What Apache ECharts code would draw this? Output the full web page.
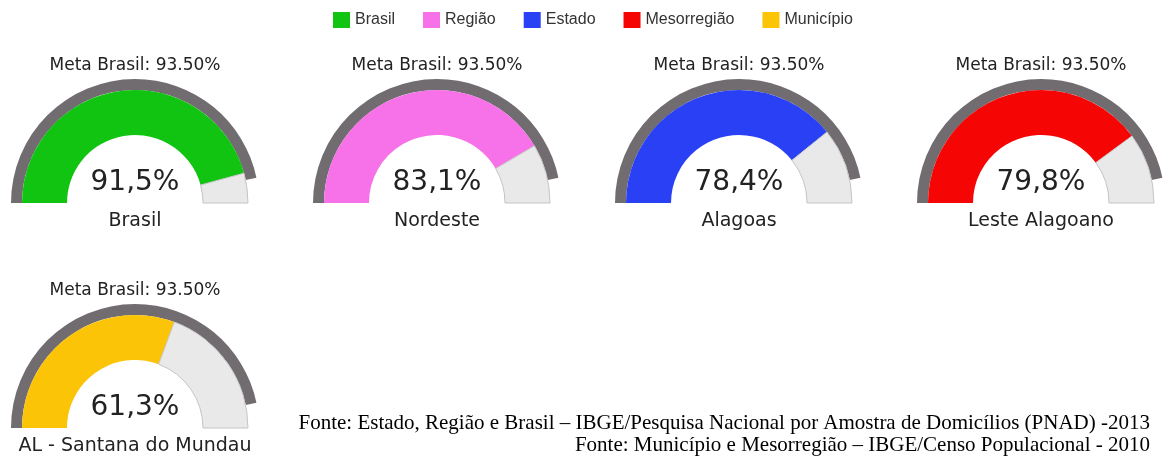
<!DOCTYPE html>
<html lang="pt">
<head>
    <meta charset="UTF-8">
    <title>Meta Brasil - velocímetros</title>
    <style type="text/css">
        *{
            margin: 0;
            padding: 0;
        }
        #main{
            width: 1163px;
            height: 457px;
            background: #ffffff;
        }
    </style>
</head>
<body>
    <div id="main"></div>
    <script src="https://cdn.jsdelivr.net/npm/echarts@6/dist/echarts.min.js"></script>
    <script type="text/javascript">
        // dados
        var groups = ['Brasil', 'Região', 'Estado', 'Mesorregião', 'Município'];
        var names = ['Brasil', 'Nordeste', 'Alagoas', 'Leste Alagoano', 'AL - Santana do Mundau'];
        var values = [91.5, 83.1, 78.4, 79.8, 61.3];
        var meta = 93.5;
        var fontes = [
            'Fonte: Estado, Região e Brasil – IBGE/Pesquisa Nacional por Amostra de Domicílios (PNAD) -2013',
            'Fonte: Município e Mesorregião – IBGE/Censo Populacional - 2010'
        ];

        var colors = ['#11c411', '#f771e8', '#2940f4', '#f60505', '#fcc407'];
        // centro de cada velocímetro
        var centers = [[135, 203], [437, 203], [739, 203], [1041, 203], [135, 428]];

        var myChart = echarts.init(document.getElementById('main'));

        var series = [];
        var graphic = [];
        var gaugeFont = 'DejaVu Sans';

        names.forEach(function (name, i) {
            var c = centers[i];
            // arco cinza da meta
            series.push({
                type: 'pie',
                center: c,
                radius: [113, 124],
                startAngle: 180,
                endAngle: 0,
                silent: true,
                animation: false,
                label: {show: false},
                labelLine: {show: false},
                data: [
                    {value: meta, name: 'Meta', itemStyle: {color: '#716c70'}},
                    {value: 100 - meta, name: 'resto', itemStyle: {color: 'rgba(0,0,0,0)'}}
                ]
            });
            // faixa do valor
            series.push({
                type: 'pie',
                center: c,
                radius: [68, 113],
                startAngle: 180,
                endAngle: 0,
                silent: true,
                animation: false,
                label: {show: false},
                labelLine: {show: false},
                data: [
                    {value: values[i], name: groups[i], itemStyle: {color: colors[i]}},
                    {value: 100 - values[i], name: 'falta', itemStyle: {color: '#e9e9e9', borderColor: '#c4c4c4', borderWidth: 1}}
                ]
            });
            graphic.push({
                type: 'text', x: c[0], y: c[1] - 137,
                style: {text: 'Meta Brasil: ' + meta.toFixed(2) + '%', font: '17px "' + gaugeFont + '"', fill: '#222', align: 'center', verticalAlign: 'middle'}
            });
            graphic.push({
                type: 'text', x: c[0], y: c[1] - 20,
                style: {text: values[i].toFixed(1).replace('.', ',') + '%', font: '28px "' + gaugeFont + '"', fill: '#222', align: 'center', verticalAlign: 'middle'}
            });
            graphic.push({
                type: 'text', x: c[0], y: c[1] + 18,
                style: {text: name, font: '19px "' + gaugeFont + '"', fill: '#222', align: 'center', verticalAlign: 'middle'}
            });
        });

        graphic.push({
            type: 'text', x: 1150, y: 423,
            style: {text: fontes[0], font: '21px "Liberation Serif"', fill: '#000', align: 'right', verticalAlign: 'middle'}
        });
        graphic.push({
            type: 'text', x: 1150, y: 445,
            style: {text: fontes[1], font: '21px "Liberation Serif"', fill: '#000', align: 'right', verticalAlign: 'middle'}
        });

        var option = {
            animation: false,
            legend: {
                data: groups,
                left: 328,
                top: 7,
                icon: 'rect',
                itemWidth: 17,
                itemHeight: 16,
                itemGap: 28,
                selectedMode: false,
                textStyle: {
                    fontFamily: 'Liberation Sans',
                    fontSize: 16,
                    color: '#333'
                }
            },
            series: series,
            graphic: graphic
        };

        myChart.setOption(option);
    </script>
</body>
</html>
